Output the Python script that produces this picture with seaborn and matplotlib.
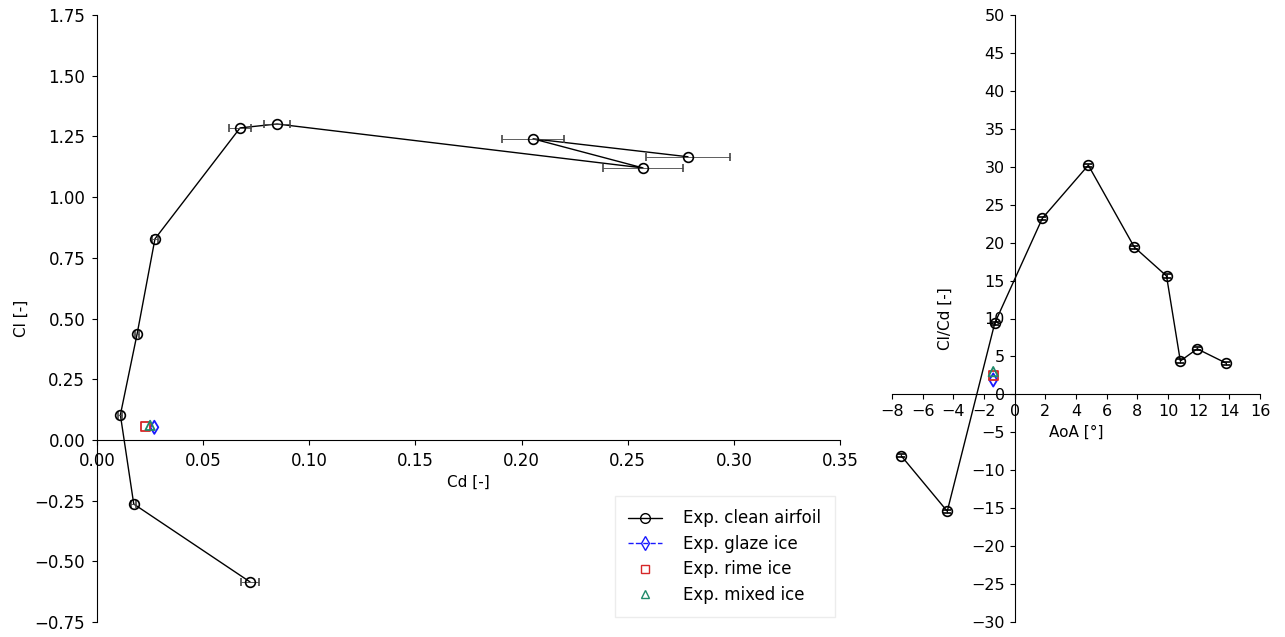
import numpy as np
import pandas as pd
import matplotlib
matplotlib.use("Agg")
import matplotlib.pyplot as plt
import seaborn as sns
from matplotlib.lines import Line2D
from matplotlib.ticker import FuncFormatter

sns.set_style("ticks", {"text.color": "black", "xtick.color": "black",
                        "ytick.color": "black", "axes.labelcolor": "black",
                        "axes.edgecolor": "black"})
plt.rcParams['font.family'] = ['DejaVu Sans']
plt.rcParams['font.size'] = 11
plt.rcParams['axes.unicode_minus'] = True

# Clean airfoil experimental data
aoa_clean = [-7.4, -4.4, -1.3, 1.8, 4.8, 7.8, 9.9, 10.8, 11.9, 13.8]
cd_clean = [0.0721, 0.0173, 0.0110, 0.0189, 0.0273, 0.0674, 0.0848, 0.2572, 0.2054, 0.2784]
cl_clean = [-0.585, -0.264, 0.103, 0.437, 0.828, 1.285, 1.301, 1.120, 1.240, 1.166]
cd_err_clean = [0.0042, 0.0012, 0.0010, 0.0010, 0.0012, 0.0050, 0.0060, 0.0190, 0.0146, 0.0200]
clcd_clean = [-8.1, -15.4, 9.4, 23.2, 30.2, 19.4, 15.6, 4.4, 6.0, 4.1]
clcd_err_clean = [0.2, 0.2, 0.2, 0.2, 0.2, 0.2, 0.2, 0.2, 0.2, 0.2]

# Iced airfoil experimental data
aoa_ice = [-1.4, -1.4, -1.4]
cd_ice = [0.0270, 0.0228, 0.0250]
cl_ice = [0.052, 0.055, 0.060]
clcd_ice = [1.9, 2.5, 3.0]
ice_labels = ["Exp. glaze ice", "Exp. rime ice", "Exp. mixed ice"]
ice_colors = ["#1a1aff", "#d62728", "#1f8a6a"]
ice_markers = ["d", "s", "^"]

df_clean = pd.DataFrame({"aoa": aoa_clean, "cd": cd_clean, "cl": cl_clean,
                         "clcd": clcd_clean})

fig = plt.figure(figsize=(12.85, 6.37), dpi=100)
ax1 = fig.add_axes([0.0755, 0.0235, 0.5782, 0.953])
ax2 = fig.add_axes([0.6942, 0.0235, 0.2864, 0.953])

fmt2 = FuncFormatter(lambda v, p: ("%.2f" % v).replace("-", "\u2212"))

# ---- Left: polar Cl vs Cd ----
sns.lineplot(data=df_clean, x="cd", y="cl", sort=False, estimator=None,
             color="black", lw=1, ax=ax1, legend=False)
ax1.errorbar(cd_clean, cl_clean, xerr=cd_err_clean, fmt="o", mfc="none",
             mec="black", color="black", ms=7, mew=1.2, elinewidth=0.6,
             ecolor="#444444", capsize=3, zorder=3)
for i in range(3):
    kw = dict(marker=ice_markers[i], s=45, facecolor="none",
              edgecolor=ice_colors[i], linewidth=1.3, zorder=4)
    sns.scatterplot(x=[cd_ice[i]], y=[cl_ice[i]], ax=ax1, legend=False, **kw)

ax1.set_xlim(0, 0.35)
ax1.set_ylim(-0.75, 1.75)
ax1.set_xticks(np.arange(0, 0.351, 0.05))
ax1.set_yticks(np.arange(-0.75, 1.751, 0.25))
ax1.xaxis.set_major_formatter(fmt2)
ax1.yaxis.set_major_formatter(fmt2)
ax1.tick_params(labelsize=12, pad=5)
for s in ["top", "right"]:
    ax1.spines[s].set_visible(False)
ax1.spines["left"].set_position(("data", 0))
ax1.spines["bottom"].set_position(("data", 0))
ax1.set_xlabel("Cd [-]", fontsize=11)
ax1.set_ylabel("Cl [-]", fontsize=11)

handles = [
    Line2D([], [], color="black", lw=1, marker="o", mfc="none", mec="black", ms=7),
    Line2D([], [], color=ice_colors[0], lw=1, ls="--", marker="d", mfc="none",
           mec=ice_colors[0], ms=7),
    Line2D([], [], color=ice_colors[1], lw=0, marker="s", mfc="none",
           mec=ice_colors[1], ms=6),
    Line2D([], [], color=ice_colors[2], lw=0, marker="^", mfc="none",
           mec=ice_colors[2], ms=6),
]
ax1.legend(handles, ["Exp. clean airfoil"] + ice_labels, loc="lower right",
           bbox_to_anchor=(0.993, 0.008), borderaxespad=0, borderpad=0.8,
           handletextpad=1.3, labelspacing=0.45,
           fontsize=12, frameon=True, fancybox=False, edgecolor="#e8e8e8")

# ---- Right: Cl/Cd vs AoA ----
sns.lineplot(data=df_clean, x="aoa", y="clcd", sort=False, estimator=None,
             color="black", lw=1, ax=ax2, legend=False)
ax2.errorbar(aoa_clean, clcd_clean, yerr=clcd_err_clean, fmt="o", mfc="none",
             mec="black", color="black", ms=7, mew=1.2, elinewidth=0.6,
             capsize=3, zorder=3)
for i in range(3):
    kw = dict(marker=ice_markers[i], s=45, facecolor="none",
              edgecolor=ice_colors[i], linewidth=1.3, zorder=4)
    sns.scatterplot(x=[aoa_ice[i]], y=[clcd_ice[i]], ax=ax2, legend=False, **kw)

ax2.set_xlim(-8, 16)
ax2.set_ylim(-30, 50)
ax2.set_xticks(np.arange(-8, 17, 2))
ax2.set_yticks(np.arange(-30, 51, 5))
ax2.tick_params(labelsize=11.5)
for s in ["top", "right"]:
    ax2.spines[s].set_visible(False)
ax2.spines["left"].set_position(("data", 0))
ax2.spines["bottom"].set_position(("data", 0))
ax2.set_xlabel("AoA [°]", fontsize=11)
ax2.set_ylabel("Cl/Cd [-]", fontsize=11)
ax2.yaxis.set_label_coords(0.165, 0.5)

fig.savefig("out.png", dpi=100)
